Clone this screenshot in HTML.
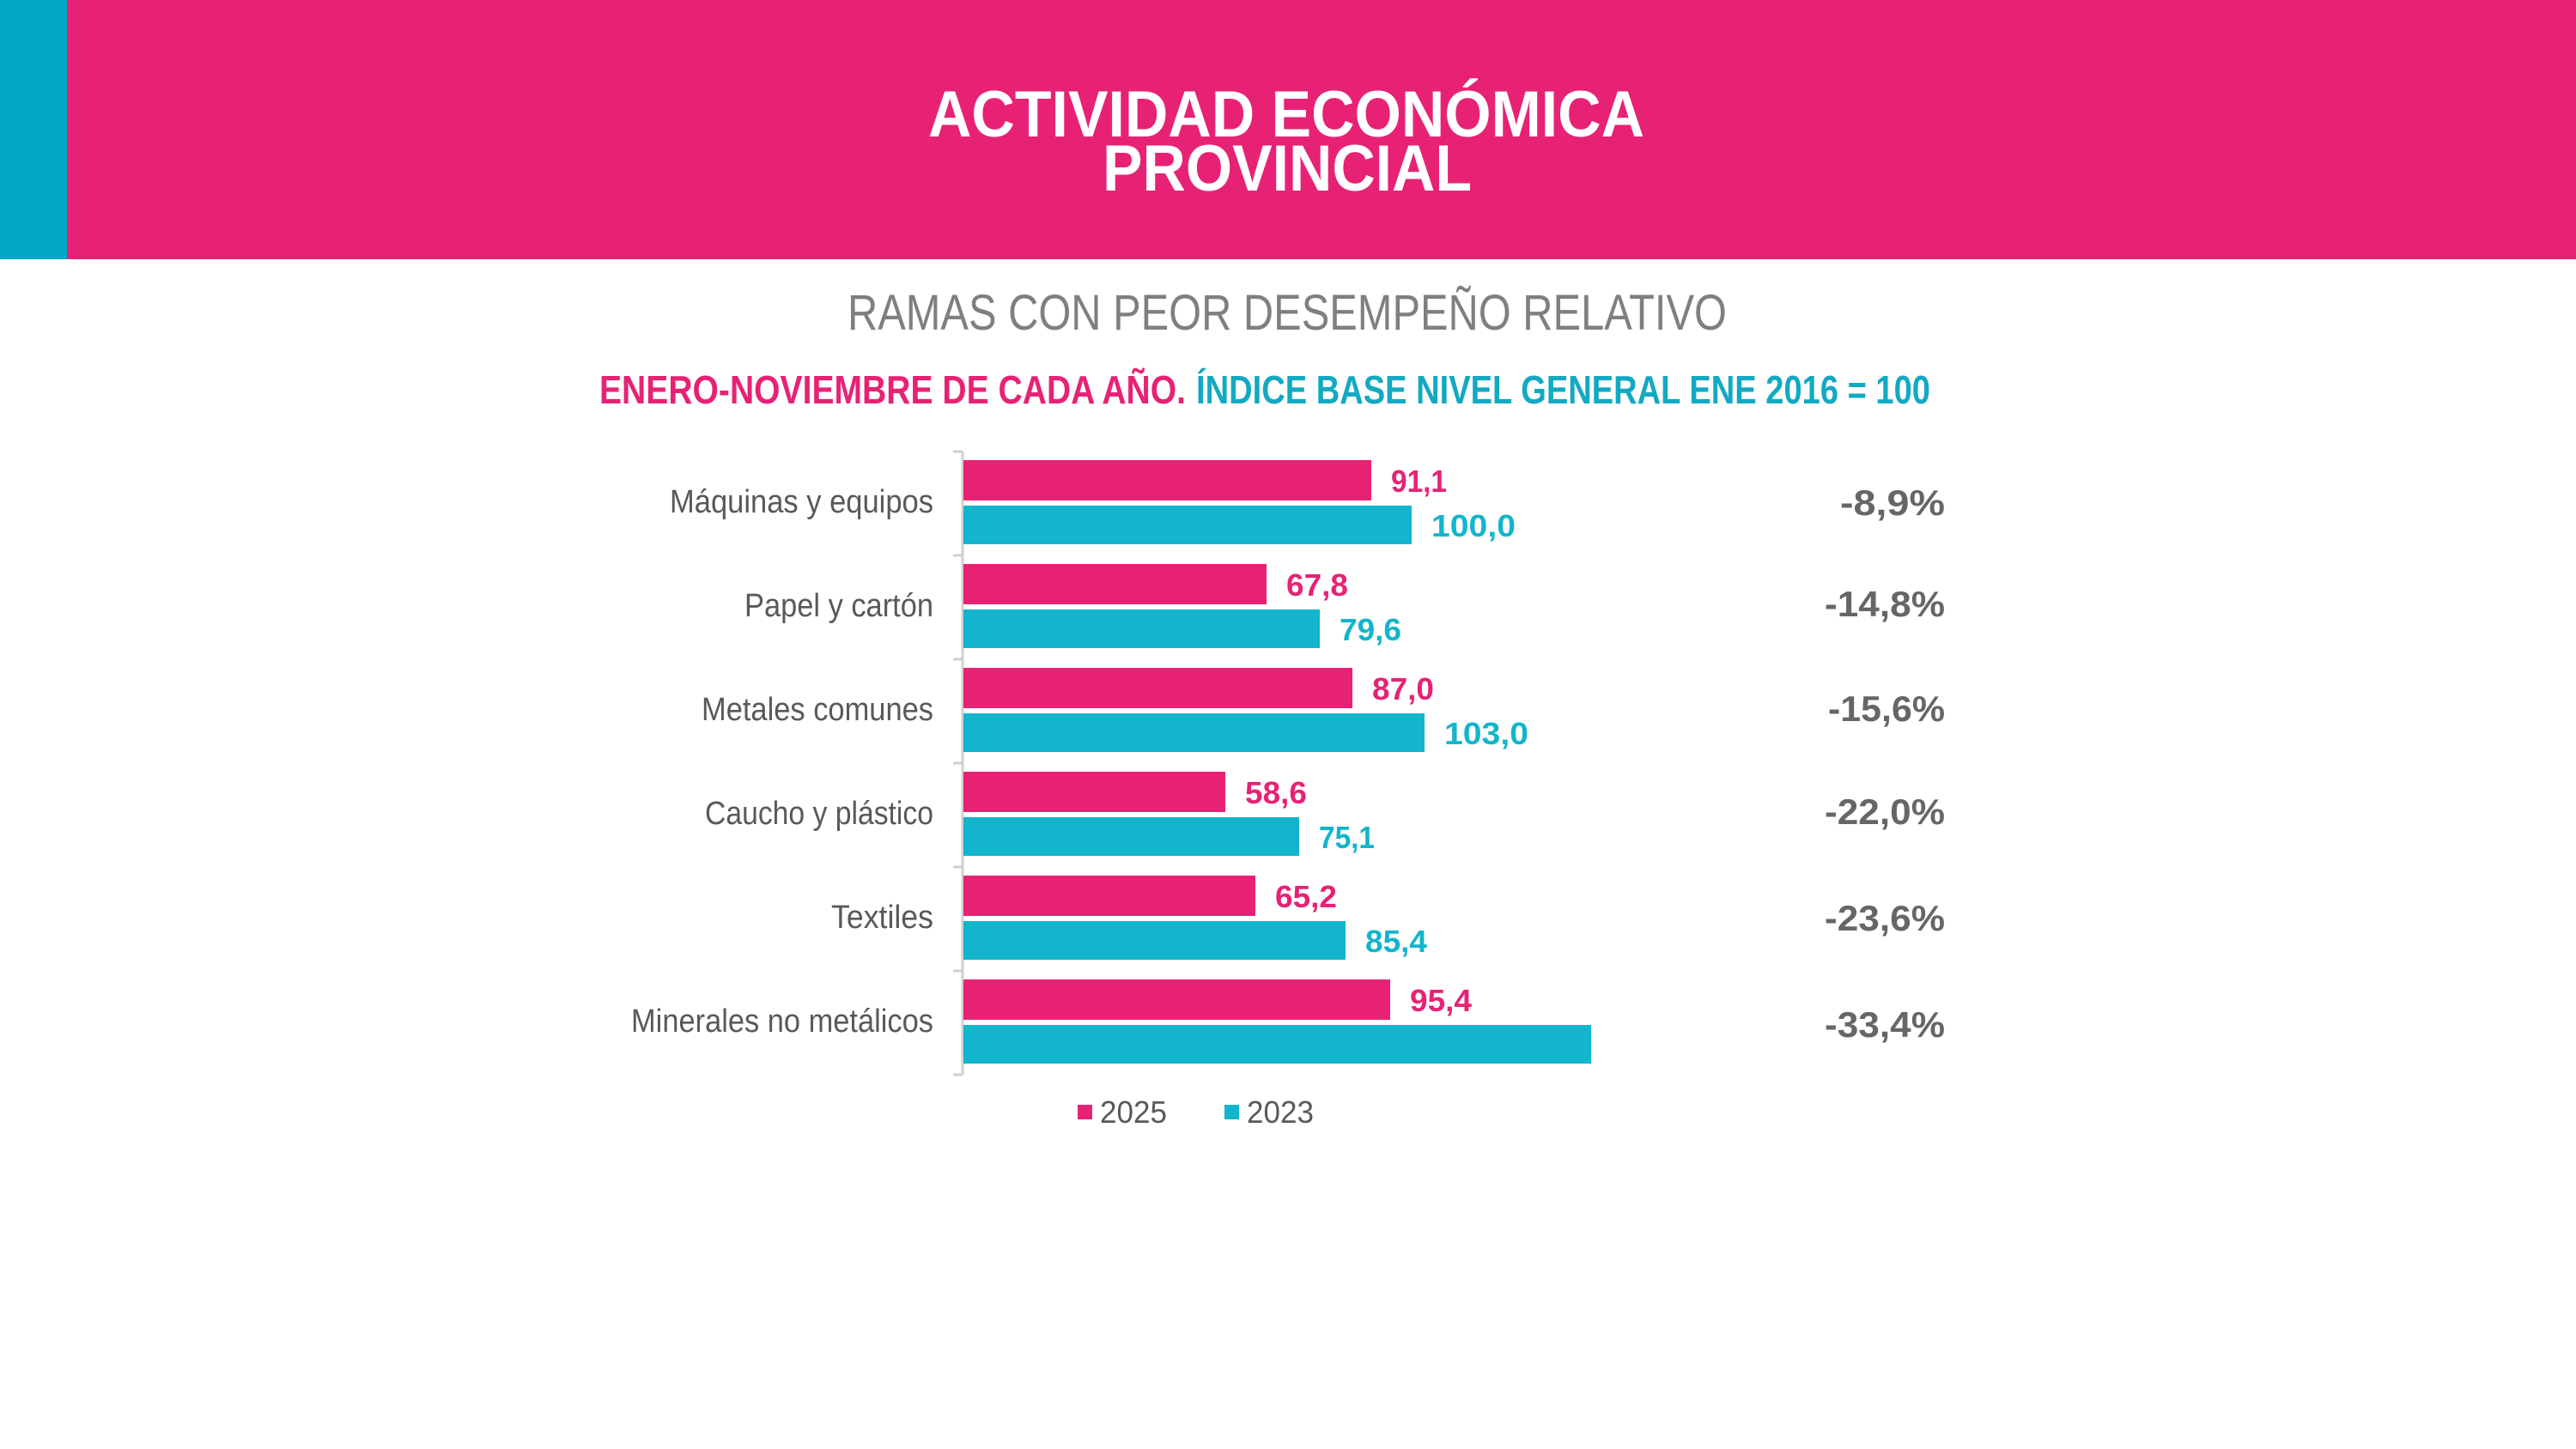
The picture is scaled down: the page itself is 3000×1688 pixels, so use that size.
<!DOCTYPE html>
<html><head><meta charset="utf-8"><style>
html,body{margin:0;padding:0;background:#fff}
svg{display:block}
text{font-family:"Liberation Sans",sans-serif}
</style></head><body>
<svg width="3000" height="1688" viewBox="0 0 3000 1688" xmlns="http://www.w3.org/2000/svg">
<rect x="0" y="0" width="3000" height="302" fill="#E72275"/>
<rect x="0" y="0" width="78" height="302" fill="#02A9C5"/>
<text x="1498" y="159" text-anchor="middle" font-size="76" font-weight="bold" fill="#fff" textLength="834" lengthAdjust="spacingAndGlyphs">ACTIVIDAD ECONÓMICA</text>
<text x="1499" y="222" text-anchor="middle" font-size="76" font-weight="bold" fill="#fff" textLength="430" lengthAdjust="spacingAndGlyphs">PROVINCIAL</text>
<text x="987" y="384" font-size="58" fill="#7F7F7F" textLength="1024" lengthAdjust="spacingAndGlyphs">RAMAS CON PEOR DESEMPEÑO RELATIVO</text>
<text x="698" y="470" font-size="46" font-weight="bold" fill="#E72275" textLength="683" lengthAdjust="spacingAndGlyphs">ENERO-NOVIEMBRE DE CADA AÑO.</text>
<text x="1393" y="470" font-size="46" font-weight="bold" fill="#12A9C2" textLength="855" lengthAdjust="spacingAndGlyphs">ÍNDICE BASE NIVEL GENERAL ENE 2016 = 100</text>

<g stroke="#D0D0D0" stroke-width="3">
<line x1="1121" y1="526" x2="1121" y2="1252"/>
<line x1="1110" y1="526" x2="1121" y2="526"/>
<line x1="1110" y1="647" x2="1121" y2="647"/>
<line x1="1110" y1="768" x2="1121" y2="768"/>
<line x1="1110" y1="889" x2="1121" y2="889"/>
<line x1="1110" y1="1010" x2="1121" y2="1010"/>
<line x1="1110" y1="1131" x2="1121" y2="1131"/>
<line x1="1110" y1="1252" x2="1121" y2="1252"/>
</g>

<g fill="#E72275">
<rect x="1122" y="536" width="475" height="47"/>
<rect x="1122" y="657" width="353" height="47"/>
<rect x="1122" y="778" width="453" height="47"/>
<rect x="1122" y="899" width="305" height="47"/>
<rect x="1122" y="1020" width="340" height="47"/>
<rect x="1122" y="1141" width="497" height="47"/>
</g>
<g fill="#12B5CC">
<rect x="1122" y="589" width="522" height="45"/>
<rect x="1122" y="710" width="415" height="45"/>
<rect x="1122" y="831" width="537" height="45"/>
<rect x="1122" y="952" width="391" height="45"/>
<rect x="1122" y="1073" width="445" height="45"/>
<rect x="1122" y="1194" width="731" height="45"/>
</g>

<g font-size="38" fill="#595959" text-anchor="end">
<text x="1087" y="597" textLength="307" lengthAdjust="spacingAndGlyphs">Máquinas y equipos</text>
<text x="1087" y="718" textLength="220" lengthAdjust="spacingAndGlyphs">Papel y cartón</text>
<text x="1087" y="839" textLength="270" lengthAdjust="spacingAndGlyphs">Metales comunes</text>
<text x="1087" y="960" textLength="266" lengthAdjust="spacingAndGlyphs">Caucho y plástico</text>
<text x="1087" y="1081" textLength="119" lengthAdjust="spacingAndGlyphs">Textiles</text>
<text x="1087" y="1202" textLength="352" lengthAdjust="spacingAndGlyphs">Minerales no metálicos</text>
</g>

<g font-size="36" font-weight="bold" fill="#E72275">
<text x="1620" y="573" textLength="65" lengthAdjust="spacingAndGlyphs">91,1</text>
<text x="1498" y="694" textLength="72" lengthAdjust="spacingAndGlyphs">67,8</text>
<text x="1598" y="815" textLength="72" lengthAdjust="spacingAndGlyphs">87,0</text>
<text x="1450" y="936" textLength="72" lengthAdjust="spacingAndGlyphs">58,6</text>
<text x="1485" y="1057" textLength="72" lengthAdjust="spacingAndGlyphs">65,2</text>
<text x="1642" y="1178" textLength="72" lengthAdjust="spacingAndGlyphs">95,4</text>
</g>
<g font-size="36" font-weight="bold" fill="#12B5CC">
<text x="1667" y="625" textLength="98" lengthAdjust="spacingAndGlyphs">100,0</text>
<text x="1560" y="746" textLength="72" lengthAdjust="spacingAndGlyphs">79,6</text>
<text x="1682" y="867" textLength="98" lengthAdjust="spacingAndGlyphs">103,0</text>
<text x="1536" y="988" textLength="65" lengthAdjust="spacingAndGlyphs">75,1</text>
<text x="1590" y="1109" textLength="72" lengthAdjust="spacingAndGlyphs">85,4</text>
</g>

<g font-size="42" font-weight="bold" fill="#666" text-anchor="end">
<text x="2265" y="600" textLength="122" lengthAdjust="spacingAndGlyphs">-8,9%</text>
<text x="2265" y="718" textLength="140" lengthAdjust="spacingAndGlyphs">-14,8%</text>
<text x="2265" y="840" textLength="136" lengthAdjust="spacingAndGlyphs">-15,6%</text>
<text x="2265" y="960" textLength="140" lengthAdjust="spacingAndGlyphs">-22,0%</text>
<text x="2265" y="1084" textLength="140" lengthAdjust="spacingAndGlyphs">-23,6%</text>
<text x="2265" y="1208" textLength="140" lengthAdjust="spacingAndGlyphs">-33,4%</text>
</g>

<rect x="1255" y="1287" width="17" height="17" fill="#E72275"/>
<text x="1281" y="1308" font-size="36" fill="#595959" textLength="78" lengthAdjust="spacingAndGlyphs">2025</text>
<rect x="1426" y="1287" width="17" height="17" fill="#12B5CC"/>
<text x="1452" y="1308" font-size="36" fill="#595959" textLength="78" lengthAdjust="spacingAndGlyphs">2023</text>
</svg>
</body></html>
